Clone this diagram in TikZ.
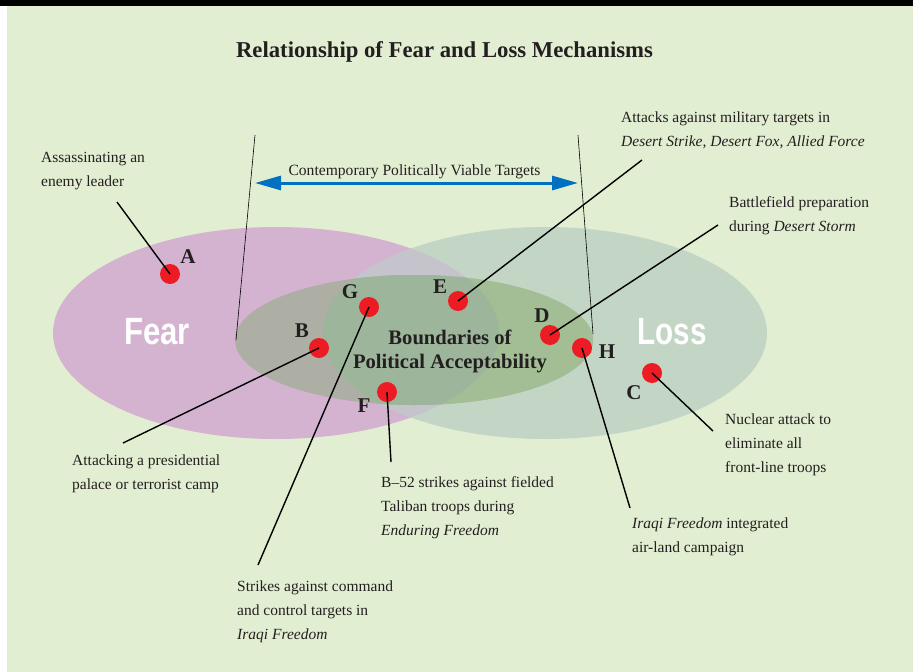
\documentclass[tikz,border=0pt]{standalone}
\usepackage{fontspec}
\usepackage{graphicx}
\setmainfont{Liberation Serif}
\newfontfamily\bigsans{Liberation Sans}
\usetikzlibrary{arrows.meta}
\definecolor{bgc}{HTML}{E2EED2}
\definecolor{fearc}{HTML}{D4B3D0}
\definecolor{lossc}{HTML}{C3D5C4}
\definecolor{overlapc}{HTML}{C5C4CC}
\definecolor{innerfear}{HTML}{ADAEA4}
\definecolor{innerboth}{HTML}{9DB59B}
\definecolor{innerloss}{HTML}{A3BE95}
\definecolor{dotred}{HTML}{ED1C24}
\definecolor{arrowblue}{HTML}{0070C0}
\definecolor{ink}{HTML}{231F20}
\tikzset{
  dot/.style={circle, fill=dotred, minimum size=20pt, inner sep=0pt},
  letter/.style={anchor=base, inner sep=0pt, text=ink, font=\bfseries\fontsize{21}{21}\selectfont},
  note/.style={anchor=base west, inner sep=0pt, align=left, text=ink, font=\fontsize{15.5}{24}\selectfont},
  leader/.style={draw=black, line width=1.4pt},
  boundline/.style={draw=black, line width=0.6pt},
  bigword/.style={anchor=base, inner sep=0pt, text=white, font=\bigsans\bfseries\fontsize{38}{38}\selectfont},
}
\begin{document}
\begin{tikzpicture}[x=1pt,y=-1pt]
\useasboundingbox (0,0) rectangle (913,672);
\fill[white] (0,0) rectangle (913,672);
\fill[bgc] (7,6) rectangle (913,672);
\fill[black] (0,0) rectangle (913,6);
% ellipses
\fill[fearc] (276,333) ellipse [x radius=223pt, y radius=106pt];
\fill[lossc] (545,333) ellipse [x radius=222pt, y radius=106pt];
\begin{scope}
  \clip (276,333) ellipse [x radius=223pt, y radius=106pt];
  \fill[overlapc] (545,333) ellipse [x radius=222pt, y radius=106pt];
\end{scope}
\fill[innerfear] (414,340) ellipse [x radius=179pt, y radius=65pt];
\begin{scope}
  \clip (414,340) ellipse [x radius=179pt, y radius=65pt];
  \fill[innerloss] (545,333) ellipse [x radius=222pt, y radius=106pt];
  \clip (276,333) ellipse [x radius=223pt, y radius=106pt];
  \fill[innerboth] (545,333) ellipse [x radius=222pt, y radius=106pt];
\end{scope}
% title
\node[anchor=base, inner sep=0pt, text=ink, font=\bfseries\fontsize{22.7}{24}\selectfont] (title) at (444.5,57) {Relationship of Fear and Loss Mechanisms};
% boundary lines and arrow
\coordinate (vlt) at (255,135);
\coordinate (vlb) at (236,340);
\coordinate (vrt) at (578,135);
\coordinate (vrb) at (593,334);
\draw[boundline] (vlt) -- (vlb);
\draw[boundline] (vrt) -- (vrb);
\coordinate (arl) at (255,183);
\coordinate (arr) at (578,183);
\draw[arrowblue, line width=3pt, {Triangle[length=26pt,width=14pt]}-{Triangle[length=26pt,width=14pt]}] (arl) -- (arr);
\node[anchor=base, inner sep=0pt, text=ink, font=\fontsize{15.6}{24}\selectfont] (viable) at (414.5,175) {Contemporary Politically Viable Targets};
% big words
\node[bigword] (fear) at (157,344) {\scalebox{0.82}[1]{Fear}};
\node[bigword] (loss) at (672,344) {\scalebox{0.78}[1]{Loss}};
\node[anchor=base, inner sep=0pt, align=center, text=ink, font=\bfseries\fontsize{20.6}{24}\selectfont] (bounds) at (450,368) {Boundaries of\\Political Acceptability};
% dots
\node[dot] (dA) at (170,274) {};
\node[dot] (dB) at (319,348) {};
\node[dot] (dC) at (652,373) {};
\node[dot] (dD) at (550,335) {};
\node[dot] (dE) at (458,301) {};
\node[dot] (dF) at (387,392) {};
\node[dot] (dG) at (369,307) {};
\node[dot] (dH) at (582,348) {};
% letters
\node[letter] (lA) at (188,263) {A};
\node[letter] (lB) at (302,337) {B};
\node[letter] (lC) at (634,399) {C};
\node[letter] (lD) at (542,322) {D};
\node[letter] (lE) at (440,293) {E};
\node[letter] (lF) at (364,412) {F};
\node[letter] (lG) at (350,298) {G};
\node[letter] (lH) at (607,358) {H};
% leader ends
\coordinate (eA) at (117,202);
\coordinate (eB) at (123,443);
\coordinate (eC) at (713,431);
\coordinate (eD) at (718,225);
\coordinate (eE) at (642,160);
\coordinate (eF) at (391,462);
\coordinate (eG) at (258,565);
\coordinate (eH) at (630,508);
\draw[leader] (dA.center) -- (eA);
\draw[leader] (dB.center) -- (eB);
\draw[leader] (dC.center) -- (eC);
\draw[leader] (dD.center) -- (eD);
\draw[leader] (dE.center) -- (eE);
\draw[leader] (dF.center) -- (eF);
\draw[leader] (dG.center) -- (eG);
\draw[leader] (dH.center) -- (eH);
% notes (base = baseline of last line)
\node[note] (tA) at (41,186) {Assassinating an\\enemy leader};
\node[note] (tE) at (621,146) {Attacks against military targets in\\\textit{Desert Strike, Desert Fox, Allied Force}};
\node[note] (tD) at (729,231) {Battlefield preparation\\during \textit{Desert Storm}};
\node[note] (tB) at (72,489) {Attacking a presidential\\palace or terrorist camp};
\node[note] (tG) at (237,639) {Strikes against command\\and control targets in\\\textit{Iraqi Freedom}};
\node[note] (tF) at (381,535) {B–52 strikes against fielded\\Taliban troops during\\\textit{Enduring Freedom}};
\node[note] (tC) at (725,472) {Nuclear attack to\\eliminate all\\front-line troops};
\node[note] (tH) at (632,552) {\textit{Iraqi Freedom} integrated\\air-land campaign};
\end{tikzpicture}
\end{document}
